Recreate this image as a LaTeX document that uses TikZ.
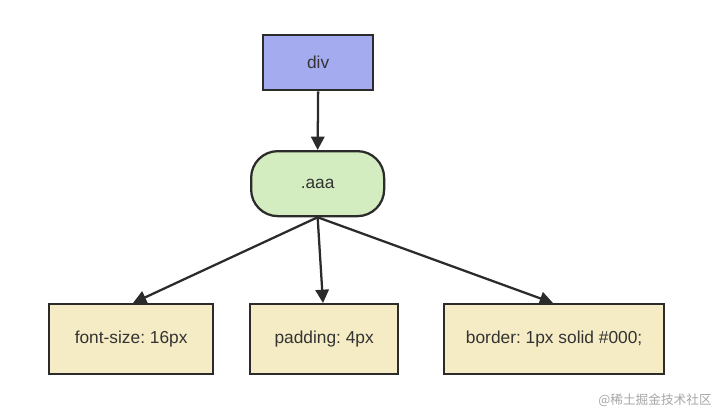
\documentclass[tikz,border=0pt]{standalone}
\usepackage{fontspec}
\setmainfont{Liberation Sans}
\newfontfamily\cjk{Noto Sans CJK SC}
\usetikzlibrary{arrows.meta}
\definecolor{divfill}{HTML}{A4ABEF}
\definecolor{aaafill}{HTML}{D4EDC0}
\definecolor{propfill}{HTML}{F5ECC5}
\definecolor{edge}{HTML}{2B2B2B}
\definecolor{txt}{HTML}{333333}
\frenchspacing
\begin{document}
\begin{tikzpicture}[x=0.75pt,y=-0.75pt,
  box/.style={draw=edge,line width=1.7pt,text=txt,font=\fontsize{13}{15}\selectfont,inner sep=0pt,anchor=north west},
  conn/.style={draw=edge,line width=1.7pt,-{Triangle[length=10pt,width=10pt]}}]
\useasboundingbox (0,0) rectangle (720,419);
\node[box,fill=divfill,minimum width=110*0.75pt,minimum height=55*0.75pt] (div) at (262,34) {div};
\node[box,fill=aaafill,rounded corners=20pt,minimum width=133*0.75pt,minimum height=65*0.75pt] (aaa) at (250,150) {.aaa};
\node[box,fill=propfill,minimum width=164*0.75pt,minimum height=70*0.75pt] (fs) at (48,303) {font-size: 16px};
\node[box,fill=propfill,minimum width=148*0.75pt,minimum height=70*0.75pt] (pad) at (249,303) {padding: 4px};
\node[box,fill=propfill,minimum width=220*0.75pt,minimum height=70*0.75pt] (bd) at (443,303) {border: 1px solid \#000;};
\coordinate (fsin) at (133,303);
\coordinate (padin) at (323,303);
\coordinate (bdin) at (553,303);
\draw[conn] (div.south) -- (aaa.north);
\draw[conn] (aaa.south) -- (fsin);
\draw[conn] (aaa.south) -- (padin);
\draw[conn] (aaa.south) -- (bdin);
\node[text=black!35,font=\cjk\fontsize{9.5}{11}\selectfont,anchor=east,inner sep=0pt] (wm) at (712,400) {@稀土掘金技术社区};
\end{tikzpicture}
\end{document}
